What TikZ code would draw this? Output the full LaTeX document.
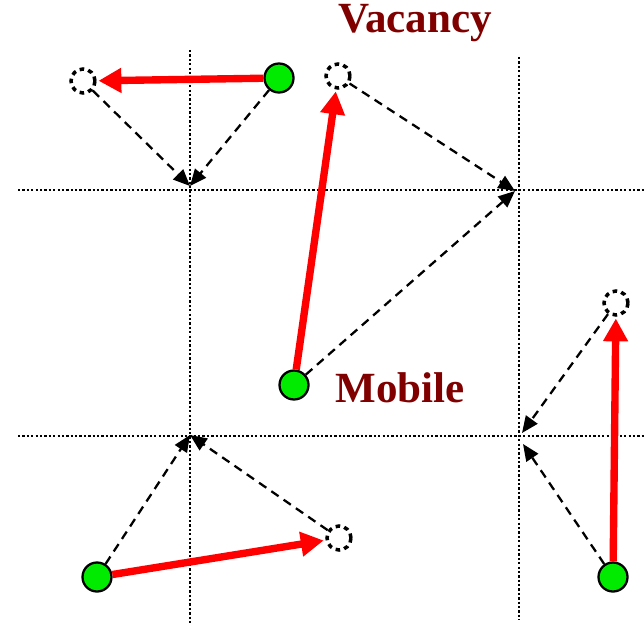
\documentclass[tikz,border=0pt]{standalone}
\usepackage{fontspec}
\setmainfont{Liberation Serif}
\usetikzlibrary{arrows.meta}
\definecolor{darkred}{RGB}{128,0,0}
\definecolor{atomgreen}{RGB}{0,235,0}

\begin{document}
\begin{tikzpicture}[
    x=0.02cm, y=-0.02cm,
    atom/.style={circle, draw, line width=1.3pt, fill=atomgreen, minimum size=0.58cm, inner sep=0pt},
    vac/.style={circle, draw, line width=2pt, dash pattern=on 2.6pt off 2.4pt, minimum size=0.48cm, inner sep=0pt},
    gridline/.style={line width=1.3pt, dash pattern=on 1.3pt off 1.2pt},
    jump/.style={-{Triangle[length=13pt,width=13.5pt]}, line width=4.2pt, red, shorten >=1pt},
    hop/.style={-{Triangle[length=9.5pt,width=8pt]}, line width=1.3pt, dash pattern=on 5pt off 3.5pt},
    tag/.style={font=\fontsize{24.5}{28}\selectfont\bfseries, text=darkred}
]
\useasboundingbox (0,0) rectangle (644,631);

% Grid lines
\draw[gridline] (18,190) -- (644,190);
\draw[gridline] (18,436) -- (644,436);
\draw[gridline] (190,50) -- (190,625);
\draw[gridline] (519,57) -- (519,620);

% Grid crossings
\coordinate (c1) at (190,186);
\coordinate (c2) at (515,191);
\coordinate (c3) at (190,435);
\coordinate (c4a) at (522,433);
\coordinate (c4b) at (523,444);

% Labels
\node[tag] (vaclabel) at (415,23) {Vacancy};
\node[tag] (moblabel) at (400,388) {Mobile};

% Atoms and vacancies
\node[atom] (a1) at (279,78) {};
\node[vac] (v1) at (83,81) {};
\node[atom] (a2) at (294,385) {};
\node[vac] (v2) at (338,76) {};
\node[atom] (a3) at (97,577) {};
\node[vac] (v3) at (339,538) {};
\node[atom] (a4) at (613,577) {};
\node[vac] (v4) at (616,303) {};

% Dashed paths
\draw[hop] (v1) -- (c1);
\draw[hop] (a1) -- (c1);
\draw[hop] (v2) -- (c2);
\draw[hop] (a2) -- (c2);
\draw[hop] (a3) -- (c3);
\draw[hop] (v3) -- (c3);
\draw[hop] (v4) -- (c4a);
\draw[hop] (a4) -- (c4b);

% Jumps
\draw[jump] (a1) -- (v1);
\draw[jump] (a2) -- (v2);
\draw[jump] (a3) -- (v3);
\draw[jump] (a4) -- (v4);

\end{tikzpicture}
\end{document}
